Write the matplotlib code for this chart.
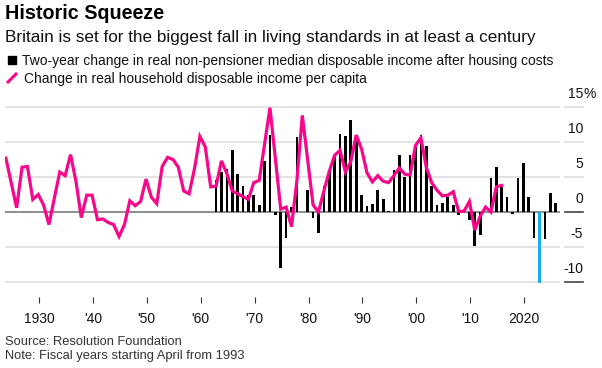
import matplotlib
matplotlib.use("Agg")
import matplotlib.pyplot as plt
from matplotlib.patches import Rectangle
from matplotlib.lines import Line2D
from matplotlib.transforms import blended_transform_factory

plt.rcParams["font.family"] = ["Liberation Sans", "DejaVu Sans"]

# real household disposable income per capita, annual % change — pink line
hh_years = [1924, 1926, 1927, 1928, 1929, 1930, 1931, 1932, 1933, 1934, 1935,
            1936, 1937, 1938, 1939, 1940, 1941, 1942, 1943, 1944, 1945, 1946,
            1947, 1948, 1949, 1950, 1951, 1952, 1953, 1954, 1955, 1956, 1957,
            1958, 1959, 1960, 1961, 1962, 1963, 1964, 1965, 1966, 1967, 1968,
            1969, 1970, 1971, 1973, 1975, 1976, 1977, 1978, 1979, 1981, 1982,
            1983, 1984, 1985, 1986, 1987, 1988, 1989, 1990, 1991, 1992, 1993,
            1994, 1995, 1996, 1997, 1998, 1999, 2000, 2001, 2002, 2003, 2004,
            2005, 2006, 2007, 2008, 2009, 2010, 2011, 2012, 2013, 2014, 2015,
            2016]
hh_change = [7.7, 0.6, 6.4, 6.5, 1.8, 2.5, 1.0, -1.8, 2.0, 5.7, 5.2,
             8.2, 4.4, -0.8, 2.4, 2.4, -1.1, -1.0, -1.5, -1.8, -3.5, -1.8,
             1.6, 0.9, 1.5, 4.7, 2.1, 1.2, 6.5, 7.8, 7.5, 6.4, 3.0,
             2.6, 6.2, 10.8, 9.3, 3.6, 3.7, 7.3, 5.5, 3.0, 2.6, 2.2,
             1.8, 4.2, 4.5, 14.9, 0.4, 0.7, -2.1, 4.5, 13.8, 1.0, 0.0,
             3.0, 5.8, 8.1, 8.8, 5.7, 7.2, 11.0, 9.0, 5.6, 4.3, 5.2,
             4.4, 4.2, 5.2, 6.3, 5.4, 5.3, 9.5, 10.6, 6.4, 4.2, 3.1,
             2.3, 2.4, 2.9, 0.1, 0.1, 1.5, -2.6, -0.6, 0.7, 0.0, 3.6,
             3.8]

# two-year change, real non-pensioner median income after housing costs — bars
med_years = [1963, 1964, 1965, 1966, 1967, 1968, 1969, 1970, 1971, 1972, 1973,
             1974, 1975, 1976, 1977, 1978, 1980, 1981, 1982, 1983, 1984, 1985,
             1986, 1987, 1988, 1989, 1990, 1991, 1992, 1993, 1994, 1995, 1996,
             1997, 1998, 1999, 2000, 2001, 2002, 2003, 2004, 2005, 2006, 2007,
             2008, 2010, 2011, 2012, 2014, 2015, 2016, 2017, 2018, 2019, 2020,
             2021, 2022, 2023, 2024, 2025, 2026]
med_change = [4.6, 5.7, 6.1, 8.8, 5.4, 3.7, 2.5, 2.5, 1.0, 7.3, 11.0,
              -0.4, -8.0, -3.7, 0.7, 10.7, 3.1, -0.9, -3.0, 3.7, 5.8, 7.9,
              11.2, 10.9, 13.1, 10.5, 2.5, 0.8, 1.2, 3.2, 1.8, 0.15, 6.0,
              8.1, 5.0, 8.2, 9.5, 11.0, 9.5, 3.7, 1.0, 1.3, 2.1, 1.0,
              -0.4, -1.2, -4.9, -3.3, 4.8, 6.4, 3.6, 2.1, -0.3, 4.8, 7.0,
              2.1, -3.7, -10.2, -3.9, 2.7, 1.3]
highlight_year = 2023

decades = [1930, 1940, 1950, 1960, 1970, 1980, 1990, 2000, 2010, 2020]
decade_labels = ["1930", "'40", "'50", "'60", "'70", "'80", "'90", "'00", "'10", "2020"]
y_ticks = [15, 10, 5, 0, -5, -10]
y_labels = ["15%", "10", "5", "0", "-5", "-10"]

PINK = "#f7088a"; BLUE = "#19adf0"; GRID = "#e3e3e3"; ZERO = "#7a7a7a"
W, H = 602, 368
fx = lambda px: px / W
fy = lambda py: 1 - py / H

fig = plt.figure(figsize=(W / 100, H / 100), dpi=100)
ax = fig.add_axes([fx(5), fy(297), fx(560) - fx(5), fy(95) - fy(297)])
ax.set_xlim(1923.84, 2026.81)
ax.set_ylim((212 - 297) / 7, (212 - 95) / 7)
for s in ax.spines.values():
    s.set_visible(False)

for v in y_ticks:
    ax.axhline(v, color=ZERO if v == 0 else GRID, lw=1.2 if v == 0 else 1.4, zorder=1)

cols = [BLUE if y == highlight_year else "black" for y in med_years]
ax.bar(med_years, med_change, width=0.5, color=cols, zorder=2)
ax.plot(hh_years, hh_change, color=PINK, lw=2.3, zorder=3, solid_joinstyle="miter")

ax.set_xticks([d + 0.15 for d in decades])
ax.set_xticklabels(decade_labels)
ax.tick_params(axis="x", length=4, width=0.8, color="#333333", pad=7,
               labelsize=10, labelcolor="#111111")
ax.set_yticks([])

# right-hand labels with short stubs under them
tr = blended_transform_factory(ax.transAxes, ax.transData)
x0 = (565 - 5) / 555; x1 = (583 - 5) / 555
for v, lab in zip(y_ticks, y_labels):
    dark = v in (0, -10)
    ax.plot([x0, x1], [v, v], transform=tr, clip_on=False,
            color="#444444" if dark else GRID, lw=1.2 if dark else 1.4)
    ax.text(x1, v + 1.25, lab.rstrip("%"), transform=tr, ha="right", va="baseline",
            fontsize=10, color="#111111")
    if lab.endswith("%"):
        ax.text(x1, v + 1.25, "%", transform=tr, ha="left", va="baseline",
                fontsize=10, color="#111111")

# title, legend, source
fig.text(fx(5), fy(19), "Historic Squeeze", fontsize=14.2, fontweight="bold",
         va="baseline", ha="left", color="black")
fig.text(fx(5), fy(42), "Britain is set for the biggest fall in living standards in at least a century",
         fontsize=12.3, va="baseline", ha="left", color="#111111")
fig.add_artist(Rectangle((fx(8), fy(64)), 8 / W, 8 / H, transform=fig.transFigure,
                         color="black"))
fig.text(fx(22), fy(64.5), "Two-year change in real non-pensioner median disposable income after housing costs",
         fontsize=10.0, va="baseline", ha="left", color="#111111")
fig.add_artist(Line2D([fx(8), fx(16)], [fy(82), fy(74)], transform=fig.transFigure,
                      color=PINK, lw=2.2))
fig.text(fx(24), fy(82.5), "Change in real household disposable income per capita",
         fontsize=10.0, va="baseline", ha="left", color="#111111")
fig.text(fx(5), fy(345), "Source: Resolution Foundation", fontsize=9.3,
         va="baseline", ha="left", color="#333333")
fig.text(fx(5), fy(359), "Note: Fiscal years starting April from 1993", fontsize=9.3,
         va="baseline", ha="left", color="#333333")

fig.savefig("out.png", dpi=100)
